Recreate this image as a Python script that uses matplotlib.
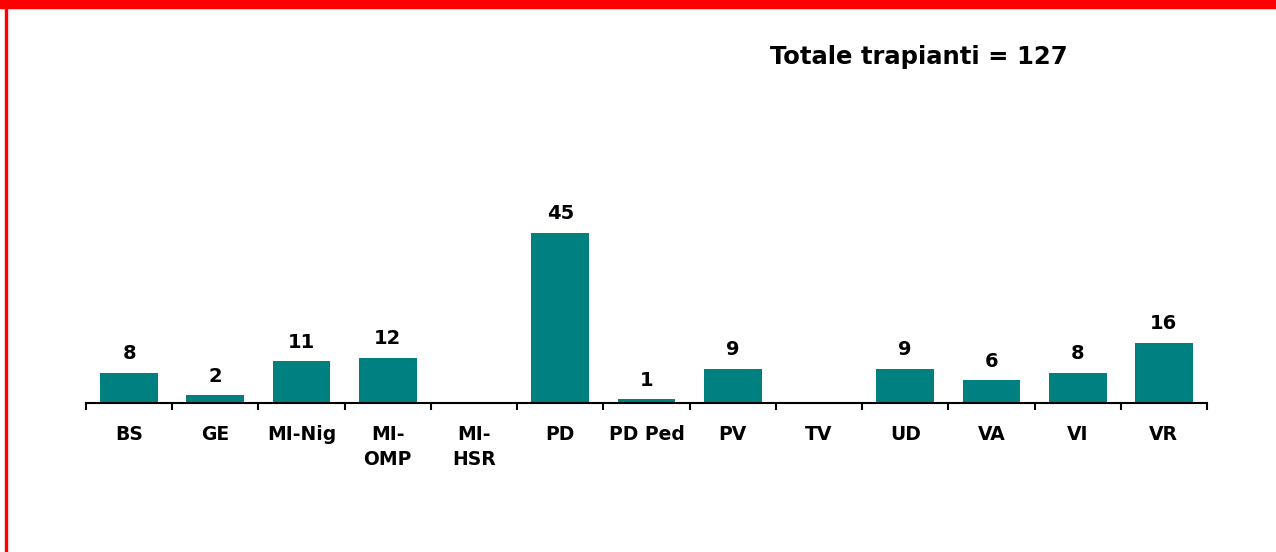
import matplotlib.pyplot as plt
import numpy as np
from matplotlib.patches import Rectangle

centres = ["BS", "GE", "MI-Nig", "MI-\nOMP", "MI-\nHSR", "PD", "PD Ped",
           "PV", "TV", "UD", "VA", "VI", "VR"]
trapianti = [8, 2, 11, 12, 0, 45, 1, 9, 0, 9, 6, 8, 16]
totale = 127

W, H = 1276, 552
fig = plt.figure(figsize=(W / 100, H / 100), dpi=100)

# red frame (top band + left edge)
fig.patches.append(Rectangle((0, 1 - 8 / H), 1, 8 / H, transform=fig.transFigure,
                             color="#ff0000", zorder=5))
fig.patches.append(Rectangle((5 / W, 0), 2.5 / W, 1, transform=fig.transFigure,
                             color="#ff0000", zorder=5))

ymax = 50
px_per_unit = 170 / 45
ax = fig.add_axes([86 / W, (H - 403) / H, (1207 - 86) / W, ymax * px_per_unit / H])

x = np.arange(len(centres))
ax.bar(x, trapianti, width=0.67, color="#008080", zorder=2)
ax.set_xlim(-0.5, len(centres) - 0.5)
ax.set_ylim(0, ymax)

for xi, v in zip(x, trapianti):
    if v > 0:
        ax.annotate(str(v), (xi, v), xytext=(0, 7), textcoords="offset points",
                    ha="center", va="bottom", fontsize=14, fontweight="bold")

for s in ["top", "right", "left"]:
    ax.spines[s].set_visible(False)
ax.spines["bottom"].set_linewidth(1.5)
ax.set_yticks([])
ax.set_xticks(np.arange(len(centres) + 1) - 0.5, minor=False)
ax.set_xticklabels([])
ax.tick_params(axis="x", direction="out", length=5, width=1.5)
ax.set_xticks(x, minor=True)
ax.set_xticklabels(centres, minor=True, fontsize=13.5, fontweight="bold",
                   linespacing=1.4, va="top")
ax.tick_params(axis="x", which="minor", length=0, pad=16)

fig.text(919 / W, 1 - 57 / H, f"Totale trapianti = {totale}", ha="center",
         va="center", fontsize=17.5, fontweight="bold")

fig.savefig("out.png", dpi=100)
